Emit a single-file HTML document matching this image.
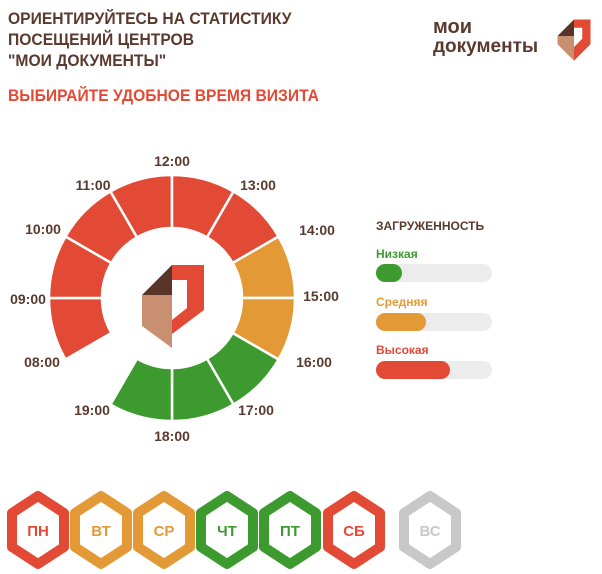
<!DOCTYPE html><html><head><meta charset="utf-8"><style>
body{margin:0;width:602px;height:574px;background:#fff;overflow:hidden;font-family:"Liberation Sans",sans-serif;position:relative}
.t{position:absolute;font-weight:bold;color:#5a3a2e}
</style></head><body>
<div class="t" style="left:8px;top:8px;font-size:17px;line-height:21px;transform:scaleX(0.92);transform-origin:left">ОРИЕНТИРУЙТЕСЬ НА СТАТИСТИКУ<br>ПОСЕЩЕНИЙ ЦЕНТРОВ<br>"МОИ ДОКУМЕНТЫ"</div>
<div class="t" style="left:8px;top:86px;font-size:17px;color:#e24a36;transform:scaleX(0.92);transform-origin:left">ВЫБИРАЙТЕ УДОБНОЕ ВРЕМЯ ВИЗИТА</div>
<div class="t" style="left:433px;top:18px;font-size:20px;color:#5a3a2e;line-height:19px">мои<br><span style="font-size:19px">документы</span></div>
<svg style="position:absolute;left:0;top:0" width="602" height="574">
<g transform="translate(574,36) scale(0.55)">
<polygon points="0,-30 30,-30 30,15 0,45 0,20 15,5 15,-15 0,-15" fill="#e24a36"/>
<polygon points="-30,0 0,-30 0,0" fill="#5a3428"/>
<polygon points="-30,0 0,0 0,20 0,45 -30,15" fill="#c89070"/>
</g>
<g id="ring"></g>
<g transform="translate(172,298)">
<polygon points="0,-33 32,-33 32,12 0,36 0,22 15,10 15,-18 0,-18" fill="#e24a36"/>
<polygon points="-30,-3 0,-33 0,-3" fill="#5a3428"/>
<polygon points="-30,-3 0,-3 0,18 0,50 -30,28" fill="#c89070"/>
</g>
<g font-family="Liberation Sans" font-weight="bold" font-size="14" fill="#5a3a2e" text-anchor="middle">
<text x="172" y="166">12:00</text><text x="258" y="190">13:00</text><text x="317" y="235">14:00</text><text x="321" y="301">15:00</text><text x="314" y="367">16:00</text><text x="256" y="415">17:00</text><text x="172" y="441">18:00</text><text x="92" y="415">19:00</text><text x="42" y="367">08:00</text><text x="28" y="304">09:00</text><text x="43" y="234">10:00</text><text x="93" y="190">11:00</text>
</g>
<text x="376" y="230" font-family="Liberation Sans" font-weight="bold" font-size="12" fill="#5a3a2e">ЗАГРУЖЕННОСТЬ</text>
<g font-family="Liberation Sans" font-weight="bold" font-size="12">
<text x="376" y="258" fill="#3c9a2f">Низкая</text>
<rect x="376" y="264" width="116" height="18" rx="9" fill="#ececec"/><rect x="376" y="264" width="26" height="18" rx="9" fill="#3c9a2f"/>
<text x="376" y="306" fill="#e39a36">Средняя</text>
<rect x="376" y="313" width="116" height="18" rx="9" fill="#ececec"/><rect x="376" y="313" width="50" height="18" rx="9" fill="#e39a36"/>
<text x="376" y="354" fill="#e24a36">Высокая</text>
<rect x="376" y="361" width="116" height="18" rx="9" fill="#ececec"/><rect x="376" y="361" width="74" height="18" rx="9" fill="#e24a36"/>
</g>
<g id="hex" font-family="Liberation Sans" font-weight="bold" font-size="15" text-anchor="middle"></g>
</svg>
<script>
var ns="http://www.w3.org/2000/svg",cx=172,cy=298,R=123,r=70;
var cols=["#e24a36","#e24a36","#e24a36","#e24a36","#e24a36","#e24a36","#e39a36","#e39a36","#3c9a2f","#3c9a2f","#3c9a2f"];
function p(a,rad){a=a*Math.PI/180;return [cx+rad*Math.sin(a),cy-rad*Math.cos(a)];}
var g=document.getElementById("ring");
for(var i=0;i<11;i++){var a0=240+i*30,a1=a0+30;
var A=p(a0,R),B=p(a1,R),C=p(a1,r),D=p(a0,r);
var e=document.createElementNS(ns,"path");
e.setAttribute("d","M"+A+"A"+R+","+R+" 0 0 1 "+B+"L"+C+"A"+r+","+r+" 0 0 0 "+D+"Z");
e.setAttribute("fill",cols[i]);e.setAttribute("stroke","#fff");e.setAttribute("stroke-width","2.5");g.appendChild(e);}
var h=document.getElementById("hex"),xs=[38,101,164,227,290,354,430],
hc=["#e24a36","#e39a36","#e39a36","#3c9a2f","#3c9a2f","#e24a36","#c8c8c8"],lb=["ПН","ВТ","СР","ЧТ","ПТ","СБ","ВС"];
xs.forEach(function(x,i){var y=530,w=26,hh=34,pts=[[x,y-hh],[x+w,y-hh/2],[x+w,y+hh/2],[x,y+hh],[x-w,y+hh/2],[x-w,y-hh/2]];
var e=document.createElementNS(ns,"polygon");e.setAttribute("points",pts.join(" "));e.setAttribute("fill","#fff");
e.setAttribute("stroke",hc[i]);e.setAttribute("stroke-width","10");e.setAttribute("stroke-linejoin","round");h.appendChild(e);
var t=document.createElementNS(ns,"text");t.setAttribute("x",x);t.setAttribute("y",y+6);t.setAttribute("fill",hc[i]);t.textContent=lb[i];h.appendChild(t);});
</script>
</body></html>
